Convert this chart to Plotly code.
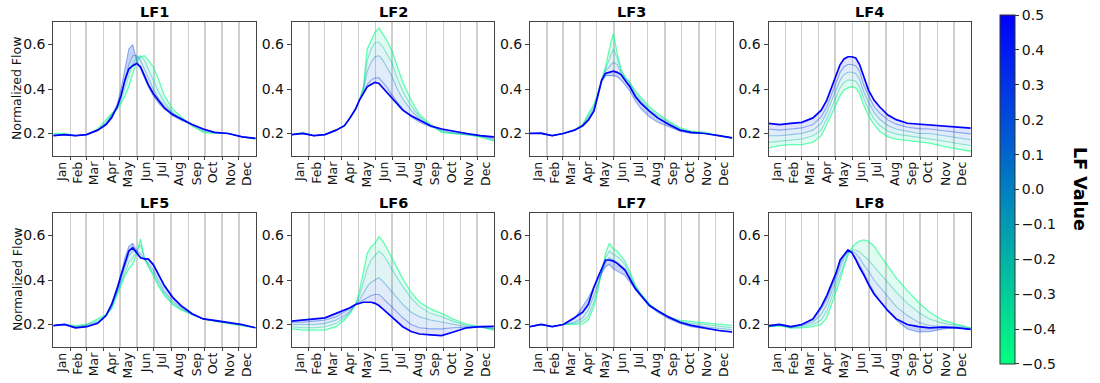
import plotly.graph_objects as go

# ---------------- data ----------------
DAYS = [0, 20, 40, 60, 80, 95, 105, 115, 122, 129, 136, 143, 150, 157, 164, 171,
        180, 190, 200, 215, 230, 250, 270, 290, 315, 340, 364]
LF_LEVELS = [-0.5, -0.25, 0.0, 0.25, 0.5]
PANEL_NAMES = ["LF1", "LF2", "LF3", "LF4", "LF5", "LF6", "LF7", "LF8"]
MONTHS = ["Jan", "Feb", "Mar", "Apr", "May", "Jun", "Jul", "Aug", "Sep", "Oct", "Nov", "Dec"]
MONTH_MID = [15, 45, 74, 105, 135, 166, 196, 227, 258, 288, 319, 349]
MONTH_START = [31, 59, 90, 120, 151, 181, 212, 243, 273, 304, 334]
YTICKS = [0.2, 0.4, 0.6]
CBAR_TICKS = [0.5, 0.4, 0.3, 0.2, 0.1, 0.0, -0.1, -0.2, -0.3, -0.4, -0.5]

LF1_N50 = [0.2, 0.2, 0.19, 0.195, 0.22, 0.26, 0.29, 0.31, 0.335, 0.37, 0.41, 0.47, 0.52, 0.545, 0.55, 0.53, 0.50, 0.44, 0.37, 0.31, 0.275, 0.235, 0.205, 0.2, 0.2, 0.185, 0.175]
LF1_N25 = [0.195, 0.195, 0.19, 0.195, 0.215, 0.25, 0.285, 0.31, 0.35, 0.41, 0.46, 0.51, 0.54, 0.55, 0.53, 0.49, 0.44, 0.385, 0.34, 0.295, 0.265, 0.235, 0.21, 0.205, 0.2, 0.185, 0.178]
LF1_Z00 = [0.19, 0.195, 0.19, 0.195, 0.215, 0.245, 0.28, 0.32, 0.37, 0.44, 0.51, 0.55, 0.55, 0.53, 0.49, 0.45, 0.40, 0.355, 0.325, 0.29, 0.265, 0.24, 0.215, 0.205, 0.2, 0.185, 0.178]
LF1_P25 = [0.19, 0.195, 0.19, 0.195, 0.215, 0.24, 0.28, 0.33, 0.40, 0.49, 0.58, 0.60, 0.53, 0.49, 0.45, 0.41, 0.37, 0.335, 0.31, 0.28, 0.26, 0.24, 0.22, 0.205, 0.2, 0.185, 0.178]
LF1_P50 = [0.19, 0.195, 0.19, 0.195, 0.215, 0.24, 0.27, 0.32, 0.37, 0.44, 0.49, 0.505, 0.515, 0.50, 0.46, 0.42, 0.38, 0.345, 0.315, 0.285, 0.265, 0.24, 0.22, 0.205, 0.2, 0.185, 0.178]

LF2_N50 = [0.195, 0.205, 0.19, 0.195, 0.215, 0.235, 0.27, 0.31, 0.35, 0.41, 0.58, 0.62, 0.655, 0.675, 0.65, 0.62, 0.575, 0.5, 0.43, 0.35, 0.285, 0.24, 0.205, 0.2, 0.195, 0.185, 0.165]
LF2_N25 = [0.195, 0.2, 0.19, 0.195, 0.215, 0.235, 0.27, 0.31, 0.35, 0.40, 0.53, 0.58, 0.61, 0.61, 0.59, 0.56, 0.52, 0.45, 0.39, 0.325, 0.275, 0.235, 0.21, 0.2, 0.195, 0.185, 0.17]
LF2_Z00 = [0.195, 0.2, 0.19, 0.195, 0.215, 0.235, 0.27, 0.31, 0.35, 0.39, 0.48, 0.52, 0.545, 0.55, 0.53, 0.50, 0.46, 0.40, 0.355, 0.305, 0.265, 0.23, 0.215, 0.205, 0.195, 0.19, 0.175]
LF2_P25 = [0.195, 0.2, 0.19, 0.195, 0.215, 0.235, 0.27, 0.31, 0.35, 0.38, 0.42, 0.44, 0.45, 0.45, 0.43, 0.41, 0.375, 0.34, 0.31, 0.275, 0.25, 0.23, 0.22, 0.21, 0.2, 0.19, 0.18]
LF2_P50 = [0.195, 0.2, 0.19, 0.195, 0.215, 0.235, 0.27, 0.31, 0.35, 0.38, 0.41, 0.42, 0.43, 0.425, 0.405, 0.385, 0.36, 0.33, 0.305, 0.28, 0.262, 0.235, 0.22, 0.21, 0.2, 0.19, 0.185]

LF3_N50 = [0.2, 0.2, 0.19, 0.2, 0.215, 0.24, 0.29, 0.33, 0.38, 0.44, 0.50, 0.58, 0.65, 0.56, 0.49, 0.455, 0.43, 0.39, 0.36, 0.32, 0.29, 0.255, 0.225, 0.21, 0.205, 0.19, 0.18]
LF3_N25 = [0.2, 0.2, 0.19, 0.2, 0.215, 0.24, 0.28, 0.32, 0.375, 0.44, 0.49, 0.54, 0.58, 0.54, 0.48, 0.45, 0.425, 0.38, 0.35, 0.31, 0.28, 0.25, 0.22, 0.205, 0.2, 0.19, 0.18]
LF3_Z00 = [0.2, 0.2, 0.19, 0.2, 0.215, 0.235, 0.27, 0.31, 0.37, 0.44, 0.48, 0.50, 0.52, 0.51, 0.47, 0.44, 0.415, 0.37, 0.34, 0.30, 0.27, 0.245, 0.215, 0.205, 0.2, 0.19, 0.18]
LF3_P25 = [0.2, 0.205, 0.19, 0.2, 0.215, 0.235, 0.26, 0.30, 0.36, 0.43, 0.46, 0.46, 0.46, 0.455, 0.44, 0.42, 0.39, 0.345, 0.31, 0.275, 0.25, 0.23, 0.21, 0.2, 0.2, 0.19, 0.18]
LF3_P50 = [0.2, 0.2, 0.19, 0.2, 0.215, 0.235, 0.26, 0.30, 0.37, 0.44, 0.47, 0.475, 0.48, 0.475, 0.465, 0.44, 0.41, 0.365, 0.335, 0.30, 0.27, 0.24, 0.215, 0.205, 0.2, 0.19, 0.18]

LF4_N50 = [0.135, 0.145, 0.15, 0.15, 0.16, 0.19, 0.24, 0.295, 0.33, 0.37, 0.395, 0.405, 0.41, 0.405, 0.38, 0.33, 0.28, 0.24, 0.21, 0.185, 0.175, 0.17, 0.163, 0.157, 0.142, 0.13, 0.12]
LF4_N25 = [0.16, 0.165, 0.17, 0.175, 0.19, 0.215, 0.265, 0.325, 0.36, 0.405, 0.43, 0.44, 0.44, 0.435, 0.41, 0.36, 0.31, 0.265, 0.237, 0.21, 0.197, 0.19, 0.182, 0.178, 0.166, 0.155, 0.146]
LF4_Z00 = [0.19, 0.19, 0.195, 0.2, 0.215, 0.245, 0.295, 0.355, 0.395, 0.44, 0.465, 0.475, 0.475, 0.47, 0.445, 0.39, 0.34, 0.295, 0.265, 0.235, 0.22, 0.21, 0.2, 0.2, 0.19, 0.18, 0.172]
LF4_P25 = [0.22, 0.215, 0.22, 0.225, 0.24, 0.275, 0.32, 0.385, 0.43, 0.475, 0.5, 0.51, 0.51, 0.505, 0.48, 0.42, 0.37, 0.32, 0.292, 0.26, 0.242, 0.228, 0.222, 0.22, 0.212, 0.204, 0.198]
LF4_P50 = [0.245, 0.24, 0.245, 0.25, 0.27, 0.305, 0.35, 0.415, 0.46, 0.51, 0.535, 0.545, 0.545, 0.54, 0.51, 0.455, 0.395, 0.35, 0.32, 0.283, 0.262, 0.246, 0.242, 0.24, 0.235, 0.228, 0.224]

LF5_N50 = [0.195, 0.2, 0.195, 0.2, 0.225, 0.245, 0.27, 0.33, 0.38, 0.42, 0.45, 0.47, 0.52, 0.585, 0.50, 0.46, 0.42, 0.37, 0.33, 0.29, 0.265, 0.245, 0.225, 0.215, 0.205, 0.195, 0.185]
LF5_N25 = [0.195, 0.2, 0.19, 0.2, 0.215, 0.24, 0.275, 0.34, 0.39, 0.44, 0.48, 0.50, 0.53, 0.56, 0.50, 0.465, 0.43, 0.38, 0.34, 0.295, 0.27, 0.245, 0.225, 0.215, 0.206, 0.196, 0.185]
LF5_Z00 = [0.195, 0.2, 0.19, 0.195, 0.21, 0.24, 0.28, 0.35, 0.40, 0.46, 0.51, 0.53, 0.53, 0.52, 0.49, 0.475, 0.445, 0.395, 0.35, 0.305, 0.275, 0.245, 0.225, 0.216, 0.207, 0.197, 0.185]
LF5_P25 = [0.195, 0.2, 0.185, 0.19, 0.205, 0.24, 0.29, 0.37, 0.43, 0.50, 0.55, 0.565, 0.53, 0.50, 0.495, 0.49, 0.465, 0.415, 0.37, 0.32, 0.283, 0.247, 0.225, 0.217, 0.208, 0.198, 0.185]
LF5_P50 = [0.195, 0.2, 0.185, 0.19, 0.205, 0.24, 0.29, 0.36, 0.42, 0.48, 0.53, 0.545, 0.52, 0.50, 0.495, 0.495, 0.47, 0.42, 0.375, 0.322, 0.285, 0.248, 0.225, 0.218, 0.21, 0.2, 0.185]

LF6_N50 = [0.18, 0.175, 0.175, 0.175, 0.19, 0.22, 0.25, 0.29, 0.35, 0.43, 0.52, 0.55, 0.565, 0.595, 0.575, 0.545, 0.50, 0.45, 0.405, 0.345, 0.30, 0.27, 0.25, 0.225, 0.2, 0.19, 0.175]
LF6_N25 = [0.19, 0.185, 0.185, 0.19, 0.205, 0.23, 0.255, 0.29, 0.33, 0.39, 0.45, 0.49, 0.51, 0.53, 0.515, 0.49, 0.45, 0.41, 0.37, 0.32, 0.28, 0.25, 0.235, 0.215, 0.195, 0.188, 0.178]
LF6_Z00 = [0.2, 0.2, 0.2, 0.205, 0.22, 0.24, 0.26, 0.29, 0.31, 0.34, 0.37, 0.39, 0.40, 0.41, 0.395, 0.375, 0.35, 0.32, 0.29, 0.255, 0.235, 0.22, 0.21, 0.2, 0.19, 0.188, 0.182]
LF6_P25 = [0.21, 0.21, 0.215, 0.22, 0.235, 0.255, 0.27, 0.29, 0.30, 0.31, 0.32, 0.33, 0.335, 0.335, 0.32, 0.30, 0.28, 0.255, 0.23, 0.2, 0.185, 0.18, 0.18, 0.185, 0.188, 0.19, 0.185]
LF6_P50 = [0.215, 0.22, 0.225, 0.23, 0.25, 0.265, 0.275, 0.29, 0.295, 0.30, 0.30, 0.30, 0.295, 0.285, 0.27, 0.255, 0.235, 0.21, 0.19, 0.168, 0.157, 0.153, 0.15, 0.165, 0.185, 0.19, 0.192]

LF7_N50 = [0.19, 0.2, 0.19, 0.2, 0.2, 0.203, 0.22, 0.28, 0.35, 0.43, 0.52, 0.565, 0.54, 0.53, 0.51, 0.485, 0.435, 0.375, 0.337, 0.292, 0.262, 0.233, 0.218, 0.213, 0.21, 0.203, 0.196]
LF7_N25 = [0.19, 0.2, 0.19, 0.2, 0.205, 0.215, 0.24, 0.30, 0.37, 0.44, 0.50, 0.53, 0.515, 0.505, 0.49, 0.47, 0.425, 0.37, 0.335, 0.29, 0.26, 0.232, 0.213, 0.205, 0.2, 0.192, 0.185]
LF7_Z00 = [0.19, 0.2, 0.19, 0.2, 0.21, 0.23, 0.265, 0.33, 0.38, 0.44, 0.48, 0.50, 0.49, 0.48, 0.465, 0.45, 0.41, 0.365, 0.33, 0.288, 0.258, 0.23, 0.208, 0.198, 0.19, 0.182, 0.176]
LF7_P25 = [0.19, 0.2, 0.19, 0.2, 0.225, 0.28, 0.32, 0.37, 0.40, 0.43, 0.46, 0.47, 0.45, 0.44, 0.43, 0.42, 0.39, 0.355, 0.325, 0.283, 0.255, 0.226, 0.205, 0.19, 0.18, 0.172, 0.166]
LF7_P50 = [0.19, 0.2, 0.19, 0.2, 0.23, 0.255, 0.29, 0.367, 0.41, 0.45, 0.49, 0.49, 0.485, 0.475, 0.46, 0.445, 0.404, 0.36, 0.33, 0.285, 0.262, 0.233, 0.21, 0.196, 0.184, 0.173, 0.166]

LF8_N50 = [0.19, 0.195, 0.184, 0.185, 0.19, 0.2, 0.23, 0.30, 0.35, 0.40, 0.46, 0.51, 0.545, 0.565, 0.575, 0.58, 0.575, 0.553, 0.515, 0.463, 0.41, 0.352, 0.30, 0.255, 0.218, 0.2, 0.185]
LF8_N25 = [0.19, 0.195, 0.185, 0.19, 0.2, 0.22, 0.26, 0.33, 0.38, 0.43, 0.48, 0.52, 0.535, 0.535, 0.525, 0.51, 0.49, 0.46, 0.43, 0.385, 0.345, 0.295, 0.255, 0.225, 0.205, 0.195, 0.183]
LF8_Z00 = [0.19, 0.197, 0.187, 0.195, 0.21, 0.245, 0.29, 0.35, 0.40, 0.455, 0.50, 0.525, 0.53, 0.52, 0.50, 0.47, 0.44, 0.40, 0.37, 0.32, 0.28, 0.24, 0.21, 0.195, 0.19, 0.19, 0.18]
LF8_P25 = [0.19, 0.198, 0.188, 0.198, 0.22, 0.27, 0.315, 0.375, 0.42, 0.475, 0.51, 0.53, 0.525, 0.50, 0.47, 0.435, 0.39, 0.345, 0.31, 0.26, 0.22, 0.18, 0.166, 0.168, 0.18, 0.185, 0.178]
LF8_P50 = [0.195, 0.2, 0.19, 0.2, 0.225, 0.28, 0.33, 0.389, 0.434, 0.49, 0.515, 0.535, 0.523, 0.493, 0.456, 0.426, 0.38, 0.337, 0.307, 0.262, 0.225, 0.2, 0.19, 0.185, 0.188, 0.185, 0.178]

PANEL_SERIES = [
    [LF1_N50, LF1_N25, LF1_Z00, LF1_P25, LF1_P50],
    [LF2_N50, LF2_N25, LF2_Z00, LF2_P25, LF2_P50],
    [LF3_N50, LF3_N25, LF3_Z00, LF3_P25, LF3_P50],
    [LF4_N50, LF4_N25, LF4_Z00, LF4_P25, LF4_P50],
    [LF5_N50, LF5_N25, LF5_Z00, LF5_P25, LF5_P50],
    [LF6_N50, LF6_N25, LF6_Z00, LF6_P25, LF6_P50],
    [LF7_N50, LF7_N25, LF7_Z00, LF7_P25, LF7_P50],
    [LF8_N50, LF8_N25, LF8_Z00, LF8_P25, LF8_P50],
]

# ---------------- style ----------------
FONT = "DejaVu Sans"
TXT = "#111111"
W, H = 1100, 383
COL_LEFT = [53.3, 291.7, 530.0, 768.5]
AX_W = 202.7
ROW_TOP = [22.3, 213.3]
AX_H = 133.4
LINE_ALPHA = [0.6, 0.4, 0.38, 0.4, 1.0]
LINE_W = [1.3, 1.1, 1.1, 1.1, 1.7]
FILL_ALPHA = 0.12


def px_x(px):
    return px / W


def px_y(py):
    return 1 - py / H


def winter_r(v):
    t = (v + 0.5)
    g = 255 * (1 - t)
    b = 255 * (1 - 0.5 * (1 - t))
    return 0, int(round(g)), int(round(b))


def rgba(v, a):
    r, g, b = winter_r(v)
    return f"rgba({r},{g},{b},{a})"


fig = go.Figure()
layout = {}
annotations = []

for i, name in enumerate(PANEL_NAMES):
    row, col = divmod(i, 4)
    ax = "" if i == 0 else str(i + 1)
    x0 = px_x(COL_LEFT[col])
    x1 = px_x(COL_LEFT[col] + AX_W)
    y1 = px_y(ROW_TOP[row])
    y0 = px_y(ROW_TOP[row] + AX_H)
    series = PANEL_SERIES[i]
    for k, lf in enumerate(LF_LEVELS):
        tr = dict(
            x=DAYS, y=series[k], mode="lines",
            line=dict(color=rgba(lf, LINE_ALPHA[k]), width=LINE_W[k]),
            xaxis="x" + ax, yaxis="y" + ax, showlegend=False, hoverinfo="skip",
        )
        if k > 0:
            mid = (LF_LEVELS[k - 1] + lf) / 2
            tr["fill"] = "tonexty"
            tr["fillcolor"] = rgba(mid, FILL_ALPHA)
        fig.add_trace(go.Scatter(**tr))

    layout["xaxis" + ax] = dict(
        domain=[x0, x1], anchor="y" + ax, range=[0, 365],
        tickmode="array", tickvals=MONTH_MID, ticktext=MONTHS, tickangle=-90,
        tickfont=dict(family=FONT, size=12.5, color=TXT),
        ticks="", showgrid=False, zeroline=False,
        showline=True, mirror=True, linecolor="#444444", linewidth=1,
        minor=dict(tickmode="array", tickvals=MONTH_START, showgrid=True,
                   gridcolor="#cfcfcf", gridwidth=1.5, ticks="outside",
                   ticklen=3, tickcolor="#444444"),
    )
    layout["yaxis" + ax] = dict(
        domain=[y0, y1], anchor="x" + ax, range=[0.1, 0.7],
        tickmode="array", tickvals=YTICKS, ticktext=[f"{v:.1f}" for v in YTICKS],
        tickfont=dict(family=FONT, size=14, color=TXT),
        ticks="outside", ticklen=4, tickcolor="#444444",
        showgrid=False, zeroline=False,
        showline=True, mirror=True, linecolor="#444444", linewidth=1,
    )
    title_y = 12.5 if row == 0 else 203
    annotations.append(dict(
        text=f"<b>{name}</b>", x=(x0 + x1) / 2, y=px_y(title_y),
        xref="paper", yref="paper", xanchor="center", yanchor="middle",
        showarrow=False, borderpad=0,
        font=dict(family=FONT, size=14.5, color="#000000"),
    ))
    if col == 0:
        annotations.append(dict(
            text="Normalized Flow", x=px_x(17), y=(y0 + y1) / 2,
            xref="paper", yref="paper", xanchor="center", yanchor="middle",
            textangle=-90, showarrow=False,
            font=dict(family=FONT, size=12.5, color=TXT),
        ))

# colorbar carrier
CB_POS = [v * 0.9998 for v in CBAR_TICKS]   # keep end ticks inside the bar
fig.add_trace(go.Scatter(
    x=[None], y=[None], mode="markers", showlegend=False, hoverinfo="skip",
    marker=dict(
        color=[0.0], cmin=-0.5, cmax=0.5, showscale=True,
        colorscale=[[0.0, rgba(-0.5, 1)], [1.0, rgba(0.5, 1)]],
        colorbar=dict(
            x=px_x(1000), xanchor="left", xref="paper", xpad=0,
            y=px_y(189.5), yanchor="middle", ypad=0,
            len=349 / H, lenmode="fraction", thickness=15, thicknessmode="pixels",
            outlinewidth=1, outlinecolor="#333333",
            tickmode="array", tickvals=CB_POS,
            ticktext=[f"{v:.1f}".replace("-", "\u2212") for v in CBAR_TICKS],
            ticks="outside", ticklen=4, tickcolor="#333333",
            tickfont=dict(family=FONT, size=14, color=TXT),
        ),
    ),
))

annotations.append(dict(
    text="<b>LF Value</b>", x=px_x(1080), y=px_y(189),
    xref="paper", yref="paper", xanchor="center", yanchor="middle",
    textangle=90, showarrow=False, font=dict(family=FONT, size=17.5, color="#000000"),
))

fig.update_layout(
    width=W, height=H, margin=dict(l=0, r=0, t=0, b=0),
    paper_bgcolor="white", plot_bgcolor="white",
    annotations=annotations, **layout,
)

fig.write_html(
    "out.html",
    config={"displayModeBar": False, "staticPlot": True},
    post_script="document.body.style.margin='0';document.body.style.overflow='hidden';",
)
